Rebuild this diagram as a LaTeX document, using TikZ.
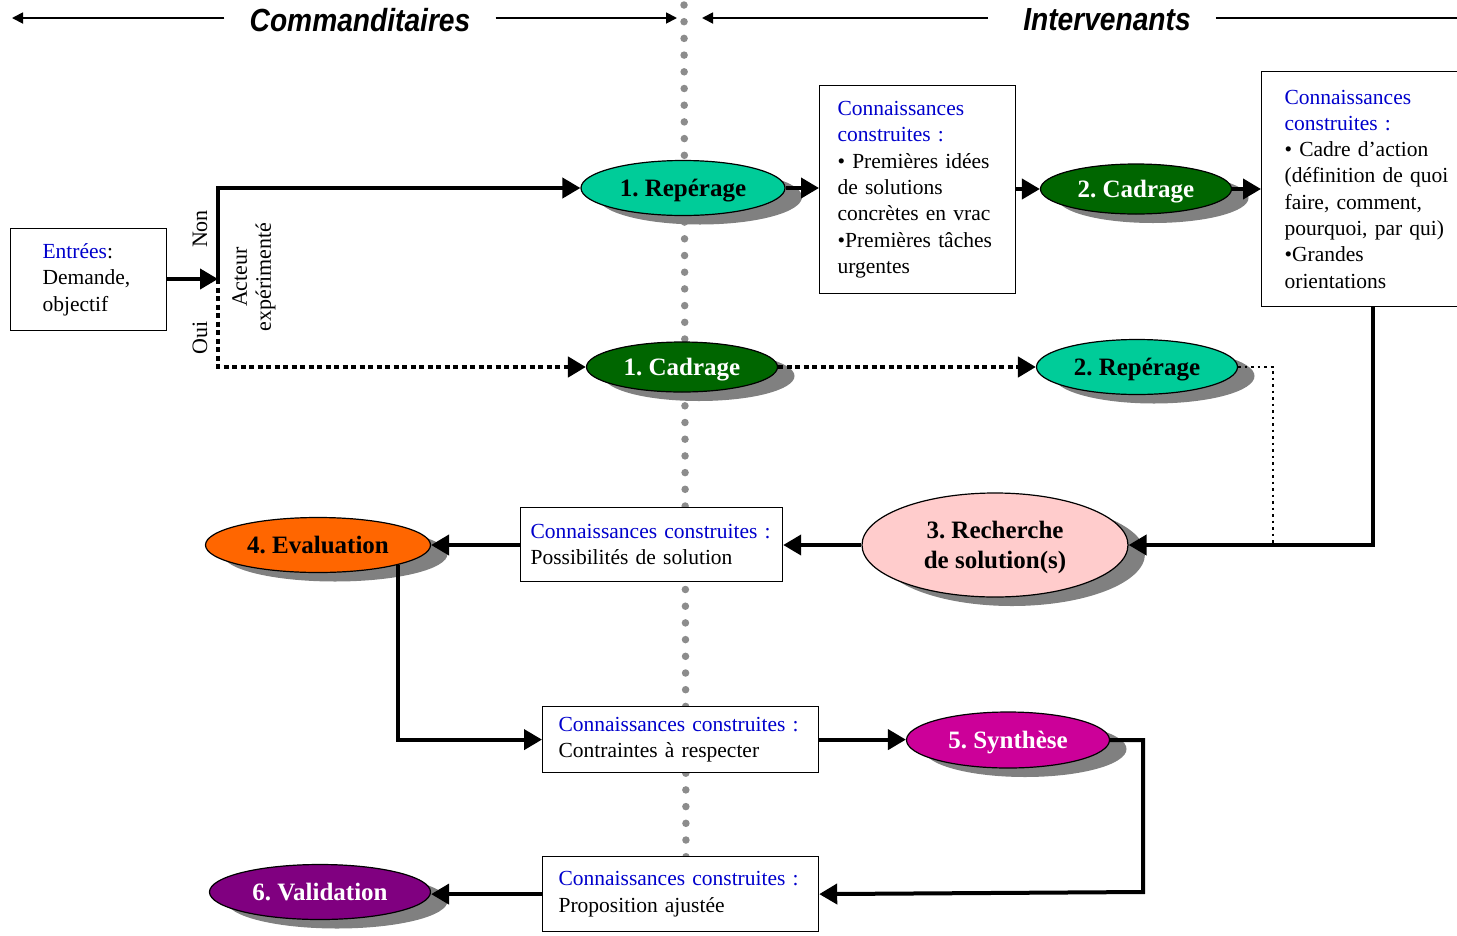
\documentclass[tikz,border=0pt]{standalone}
\usepackage{fontspec}
\setmainfont{Liberation Serif}
\newfontfamily\hdrfont[FakeStretch=0.88]{Liberation Sans}
\usetikzlibrary{arrows.meta,shapes.geometric,shadows}
\definecolor{tealphase}{RGB}{0,204,153}
\definecolor{greenphase}{RGB}{0,102,0}
\definecolor{pinkphase}{RGB}{255,204,204}
\definecolor{orangephase}{RGB}{255,102,0}
\definecolor{magentaphase}{RGB}{204,0,153}
\definecolor{purplephase}{RGB}{128,0,128}
\definecolor{ccblue}{RGB}{0,0,204}
\definecolor{shadowgray}{RGB}{128,128,128}
\definecolor{sepgray}{RGB}{140,140,140}
\newcommand{\ccb}[1]{\textcolor{ccblue}{#1}}
\frenchspacing
\begin{document}
\begin{tikzpicture}[x=1pt,y=-1pt,
  phase/.style={ellipse, draw=black, line width=1.2pt, inner sep=0pt, text depth=0pt,
    font=\fontsize{25}{30}\selectfont\bfseries, align=center,
    general shadow={fill=shadowgray, shadow xshift=17pt, shadow yshift=-9pt}},
  infobox/.style={draw=black, line width=1.2pt, fill=white, anchor=north west,
    align=left, inner ysep=0pt, font=\fontsize{21.5}{26.3}\selectfont},
  conn/.style={line width=4pt, -{Triangle[length=18pt,width=20pt]}},
  dotconn/.style={line width=4.5pt, dash pattern=on 5pt off 3.5pt, -{Triangle[length=18pt,width=20pt]}},
  thindot/.style={line width=2.5pt, dash pattern=on 2.5pt off 4pt},
  hdr/.style={font=\hdrfont\bfseries\itshape\fontsize{32}{36}\selectfont, inner sep=0pt},
  hdrarrow/.style={line width=1.8pt, -{Triangle[length=11pt,width=11pt]}},
  sidelabel/.style={rotate=90, font=\fontsize{22}{24}\selectfont, inner sep=0pt, align=center},
]
\useasboundingbox (0,0) rectangle (1457,935);
\clip (0,0) rectangle (1457,935);

% separator
\coordinate (vt) at (684,5);
\coordinate (vb) at (686,860);
\draw[sepgray, line width=7.5pt, line cap=round, dash pattern=on 0pt off 16.7pt] (vt) -- (vb);

% header
\node[hdr] (cmd) at (360,20) {Commanditaires};
\node[hdr] (intv) at (1107,20) {Intervenants};
\coordinate (hl1) at (12,18);
\coordinate (hr1) at (677,18);
\coordinate (hl2) at (702,18);
\coordinate (hr2) at (1470,18);
\draw[hdrarrow] ([xshift=-25pt]cmd.west |- hl1) -- (hl1);
\draw[hdrarrow] ([xshift=25pt]cmd.east |- hr1) -- (hr1);
\draw[hdrarrow] ([xshift=-35pt]intv.west |- hl2) -- (hl2);
\draw[line width=1.8pt] ([xshift=25pt]intv.east |- hr2) -- (hr2);

% boxes
\node[infobox, minimum width=156, minimum height=102, inner xsep=32, text width=92] (entrees) at (10,228)
  {\ccb{Entrées}:\\Demande,\\objectif};
\node[infobox, minimum width=196, minimum height=208, inner xsep=18, text width=160] (box1) at (819,85)
  {\ccb{Connaissances}\\\ccb{construites :}\\• Premières idées\\de solutions\\concrètes en vrac\\•Premières tâches\\urgentes};
\node[infobox, minimum width=222, minimum height=235, inner xsep=23, text width=176] (box2) at (1261,71)
  {\ccb{Connaissances}\\\ccb{construites :}\\• Cadre d’action\\(définition de quoi\\faire, comment,\\pourquoi, par qui)\\•Grandes\\orientations};
\node[infobox, minimum width=262, minimum height=74, inner xsep=10, text width=242] (box3) at (520,507)
  {\ccb{Connaissances construites :}\\Possibilités de solution};
\node[infobox, minimum width=276, minimum height=66, inner xsep=16, text width=244] (box4) at (542,706)
  {\ccb{Connaissances construites :}\\Contraintes à respecter};
\node[infobox, minimum width=276, minimum height=75, inner xsep=16, text width=244] (box5) at (542,856)
  {\ccb{Connaissances construites :}\\Proposition ajustée};

% phases
\node[phase, fill=tealphase, minimum width=204, minimum height=55] (rep1) at (683,188) {1. Repérage};
\node[phase, fill=greenphase, text=white, minimum width=191, minimum height=50] (cad1) at (682,367) {1. Cadrage};
\node[phase, fill=greenphase, text=white, minimum width=191, minimum height=50] (cad2) at (1136,189) {2. Cadrage};
\node[phase, fill=tealphase, minimum width=201, minimum height=55] (rep2) at (1137,367) {2. Repérage};
\node[phase, fill=pinkphase, minimum width=266, minimum height=104] (rech) at (995,545) {3. Recherche\\de solution(s)};
\node[phase, fill=orangephase, minimum width=225, minimum height=55] (eval) at (318,545) {4. Evaluation};
\node[phase, fill=magentaphase, text=white, minimum width=203, minimum height=56] (synth) at (1008,740) {5. Synthèse};
\node[phase, fill=purplephase, text=white, minimum width=221, minimum height=55] (valid) at (320,892) {6. Validation};

% side labels
\node[sidelabel] (non) at (200,229) {Non};
\node[sidelabel] (oui) at (200,338) {Oui};
\node[sidelabel] (acteur) at (254,277) {Acteur\\expérimenté};

% connectors
\coordinate (junc) at (218,279);
\coordinate (dk) at (1273,545);
\coordinate (sk) at (1143,892);
\draw[conn] (entrees.east |- junc) -- (junc);
\draw[conn] (junc) |- (rep1.west);
\draw[dotconn] (junc) |- (cad1.west);
\draw[conn] (rep1.east) -- (rep1.east -| box1.west);
\draw[conn] (box1.east |- cad2.west) -- (cad2.west);
\draw[conn] (cad2.east) -- (cad2.east -| box2.west);
\draw[conn] (box2.south) |- (rech.east);
\draw[thindot] (rep2.east) -| (dk) -- (rech.east);
\draw[dotconn] (cad1.east) -- (rep2.west);
\draw[conn] (rech.west) -- (rech.west -| box3.east);
\draw[conn] (box3.west |- eval.east) -- (eval.east);
\draw[conn] (eval.south east) |- (box4.west);
\draw[conn] (box4.east) -- (box4.east -| synth.west);
\draw[conn] (synth.east) -| (sk) -- (box5.east);
\draw[conn] (box5.west) -- (box5.west -| valid.east);
\end{tikzpicture}
\end{document}
